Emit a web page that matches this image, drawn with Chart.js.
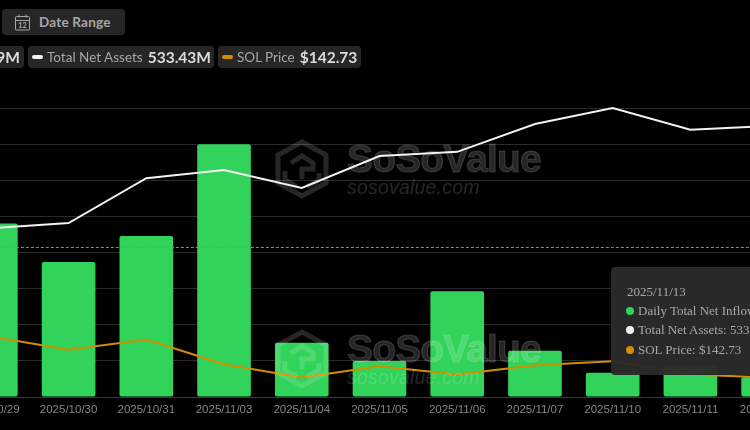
<!DOCTYPE html>
<html><head><meta charset="utf-8">
<script src="https://cdn.jsdelivr.net/npm/chart.js@4"></script>
<style>
html,body{margin:0;padding:0;background:#000;width:750px;height:430px;overflow:hidden}
#wrap{position:absolute;left:-48px;top:0;width:855px;height:430px}
.pill{position:absolute;background:#262626;border-radius:4px;color:#a6a6a6;font:13.5px Lato,sans-serif;white-space:nowrap;display:flex;align-items:center}
.pill b{color:#dcdcdc;font-weight:700;font-size:15.5px;margin-left:5px}
.sw{display:inline-block;width:11px;height:4px;border-radius:2px;margin-right:4px}
#tip{position:absolute;left:611px;top:267px;width:170px;height:108px;background:rgba(42,42,42,.97);border-radius:4px;color:#a8a8a8;font:13px "Liberation Serif",serif;white-space:nowrap}
#tip div{position:absolute;left:16px}
#tip i{display:inline-block;width:8px;height:8px;border-radius:50%;margin-right:4px;margin-left:-1px;vertical-align:0}
.wm{position:absolute;left:275px;width:270px;height:62px;pointer-events:none;color:rgba(255,255,255,.15)}
.wm svg{position:absolute;left:0;top:0}
.wm .a{position:absolute;left:72px;top:-2px;font:700 39px "Liberation Sans",sans-serif;letter-spacing:-.85px;-webkit-text-stroke:1px rgba(255,255,255,.15)}
.wm .b{position:absolute;left:72px;top:37px;font:italic 19.5px "Liberation Sans",sans-serif;letter-spacing:.2px}
</style></head><body>
<div id="wrap"><canvas id="c" width="855" height="430"></canvas></div>
<div class="wm" style="top:139px"><svg width="54" height="60" viewBox="0 0 54 60" fill="none" stroke="rgba(255,255,255,.15)" stroke-width="5"><path d="M27 3 51 16V44L27 57 3 44V16Z"/><path d="M16 24 27 17 38 24V30H27V40M10 32V41L22 48M44 34V41L32 48"/></svg><span class="a">SoSoValue</span><span class="b">sosovalue.com</span></div>
<div class="wm" style="top:329px"><svg width="54" height="60" viewBox="0 0 54 60" fill="none" stroke="rgba(255,255,255,.15)" stroke-width="5"><path d="M27 3 51 16V44L27 57 3 44V16Z"/><path d="M16 24 27 17 38 24V30H27V40M10 32V41L22 48M44 34V41L32 48"/></svg><span class="a">SoSoValue</span><span class="b">sosovalue.com</span></div>
<div class="pill" style="left:2px;top:9px;width:123px;height:26px;font-size:13.5px;font-weight:700;letter-spacing:.2px"><svg style="margin:0 8px 0 13px" width="16" height="17" viewBox="0 0 16 17" fill="none" stroke="#a6a6a6"><rect x=".5" y="2.5" width="14" height="13.5" rx="1"/><path d="M.5 6.5h14M4 .5v3M11 .5v3"/><text x="7.5" y="14" font-size="7" fill="#a6a6a6" stroke="none" text-anchor="middle" font-family="Lato">12</text></svg>Date Range</div>
<div class="pill" style="left:-20px;top:46px;width:44px;height:22px;justify-content:flex-end;padding-right:0"><b style="margin-right:4px">9M</b></div>
<div class="pill" style="left:28px;top:46px;width:186px;height:22px"><span class="sw" style="background:#f2f2f2;margin-left:4px"></span>Total Net Assets<b>533.43M</b></div>
<div class="pill" style="left:218px;top:46px;width:143px;height:22px"><span class="sw" style="background:#d18f00;margin-left:4px"></span>SOL Price<b>$142.73</b></div>
<div id="tip">
<div style="top:17px">2025/11/13</div>
<div style="top:36px"><i style="background:#32d35a"></i>Daily Total Net Inflow: 1.49M</div>
<div style="top:55px"><i style="background:#f2f2f2"></i>Total Net Assets: 533.43M</div>
<div style="top:75px"><i style="background:#d18f00"></i>SOL Price: $142.73</div>
</div>
<script>
const categories=["2025/10/29","2025/10/30","2025/10/31","2025/11/03","2025/11/04","2025/11/05","2025/11/06","2025/11/07","2025/11/10","2025/11/11","2025/11/12"];
const dailyInflow=[48,37.4,44.6,70,15,10,29.3,12.8,6.7,8.9,5.5];
const netAssets=[327,337,424,440,405,467,475,529,560,518,525];
const solPrice=[195,182,192,168,155,166,158,167,171,158,155];
const guide=[41.4,41.4,41.4,41.4,41.4,41.4,41.4,41.4,41.4,41.4,41.4];
new Chart(document.getElementById('c'),{
 data:{labels:categories,datasets:[
  {type:'line',label:'Total Net Assets',data:netAssets,yAxisID:'yA',borderColor:'#f2f2f2',borderWidth:2,pointRadius:0,tension:0,clip:false,order:1},
  {type:'line',label:'SOL Price',data:solPrice,yAxisID:'yP',borderColor:'#d18f00',borderWidth:2,pointRadius:0,tension:0,order:2},
  {type:'line',label:'Guide',data:guide,yAxisID:'y',borderColor:'#8f8f8f',borderWidth:1,borderDash:[3,2],pointRadius:0,order:3},
  {type:'bar',label:'Daily Total Net Inflow',data:dailyInflow,yAxisID:'y',backgroundColor:'#32d35a',borderRadius:2,borderSkipped:false,barPercentage:.69,categoryPercentage:1,order:4}
 ]},
 options:{responsive:false,animation:false,
  layout:{padding:{top:108,bottom:0,left:0,right:0}},
  plugins:{legend:{display:false},tooltip:{enabled:false}},
  scales:{
   x:{offset:true,afterFit(s){s.height=33},grid:{display:false,drawTicks:false},border:{color:'#3a3a3a'},ticks:{color:'#858585',font:{family:'"Liberation Sans"',size:11.5},maxRotation:0,autoSkip:false,padding:6}},
   y:{display:true,position:'left',min:0,max:80,afterFit(s){s.width=0},ticks:{display:false,stepSize:10},grid:{color:'#2a2a2a',drawTicks:false},border:{display:false}},
   yA:{display:false,min:0,max:560},
   yP:{display:false,min:136,max:418}
  }}
});
</script>
</body></html>
